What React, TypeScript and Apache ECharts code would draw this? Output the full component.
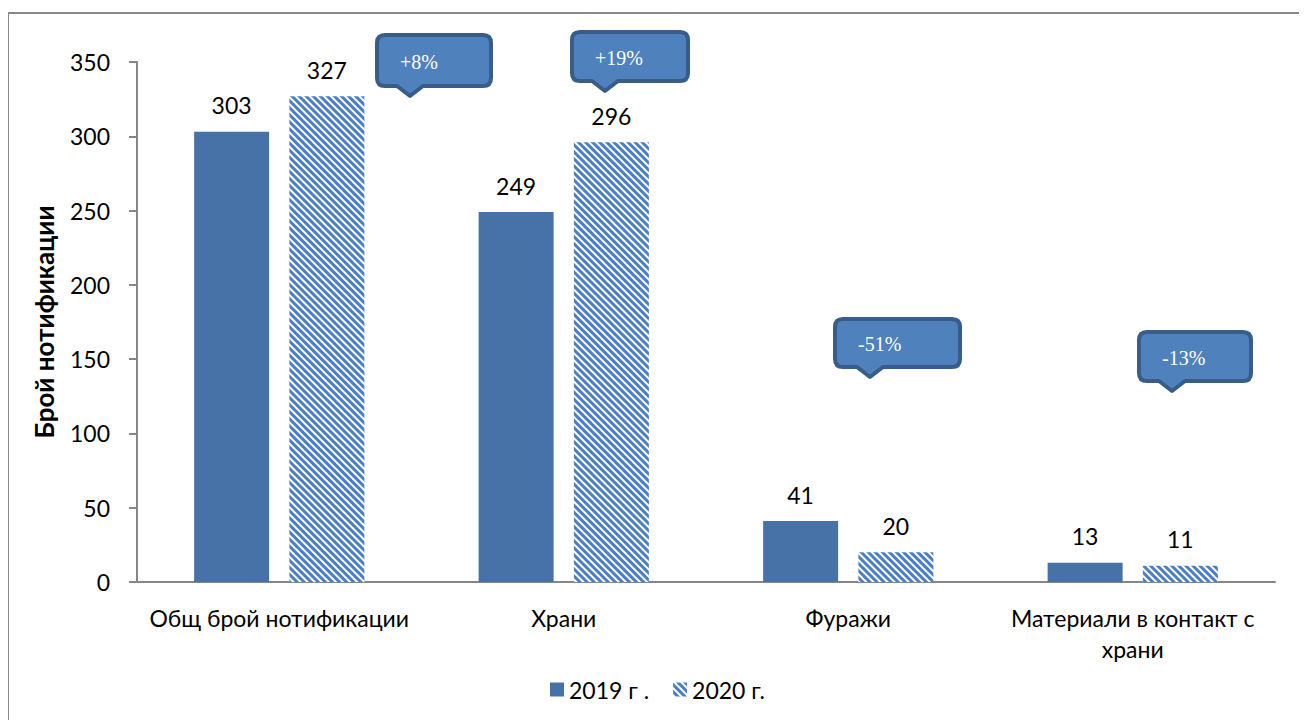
import React, { useEffect, useRef } from "react";
import * as echarts from "echarts";

const categories = [
  "Общ брой нотификации",
  "Храни",
  "Фуражи",
  "Материали в контакт с\nхрани",
];
const seriesNames = ["2019 г .", "2020 г."];
const values2019 = [303, 249, 41, 13];
const values2020 = [327, 296, 20, 11];
const yTicks = { min: 0, max: 350, interval: 50 };
const calloutTexts = ["+8%", "+19%", "-51%", "-13%"];

// Annotation boxes (layout only): left, top, width, height, tail x offset, tail height
const calloutBoxes = [
  { x: 369, y: 27, w: 114, h: 51, tx: 33, th: 10 },
  { x: 564, y: 24, w: 116, h: 49, tx: 33, th: 10 },
  { x: 827, y: 311, w: 125, h: 48, tx: 35, th: 10 },
  { x: 1131, y: 324, w: 112, h: 49, tx: 33, th: 10 },
];

function calloutPath(w: number, h: number, tx: number, th: number) {
  const r = 8;
  const hw = 13;
  return `M${r},0 H${w - r} Q${w},0 ${w},${r} V${h - r} Q${w},${h} ${w - r},${h} H${tx + hw} L${tx},${h + th} L${tx - hw},${h} H${r} Q0,${h} 0,${h - r} V${r} Q0,0 ${r},0 Z`;
}

export default function App() {
  const ref = useRef<HTMLDivElement>(null);
  useEffect(() => {
    if (!ref.current) return;
    calloutBoxes.forEach((b, i) => {
      echarts.graphic.registerShape(
        "callout" + i,
        echarts.graphic.extendPath(calloutPath(b.w, b.h, b.tx, b.th), {})
      );
    });
    const chart = echarts.init(ref.current, null, { renderer: "svg" });
    const font = "Lato";
    const fs = 23;
    const graphics: any[] = [
      {
        type: "rect",
        shape: { x: 0, y: 5, width: 1400, height: 800 },
        style: { fill: "none", stroke: "#878787", lineWidth: 2 },
        silent: true,
      },
    ];
    calloutBoxes.forEach((b, i) => {
      graphics.push({
        type: "callout" + i,
        x: b.x,
        y: b.y,
        style: { fill: "#4F81BD", stroke: "#385D8A", lineWidth: 4, lineJoin: "round" },
        z: 100,
      });
      graphics.push({
        type: "text",
        x: b.x + 23,
        y: b.y + b.h / 2 + 1,
        style: {
          text: calloutTexts[i],
          fill: "#ffffff",
          font: '20px "Liberation Serif"',
          verticalAlign: "middle",
        },
        z: 101,
      });
    });
    chart.setOption({
      animation: false,
      textStyle: { fontFamily: font },
      grid: { left: 129, top: 54, right: 32, bottom: 138, containLabel: false },
      legend: {
        bottom: 14,
        left: "center",
        icon: "rect",
        itemWidth: 14,
        itemHeight: 14,
        itemGap: 24,
        textStyle: { fontSize: fs, color: "#000", fontFamily: font },
        data: seriesNames,
      },
      xAxis: {
        type: "category",
        data: categories,
        axisLine: { show: true, lineStyle: { color: "#868686", width: 2 } },
        axisTick: { show: false },
        axisLabel: {
          fontSize: fs,
          color: "#000",
          margin: 20,
          lineHeight: 31,
          fontFamily: font,
          interval: 0,
        },
      },
      yAxis: {
        type: "value",
        min: yTicks.min,
        max: yTicks.max,
        interval: yTicks.interval,
        name: "Брой нотификации",
        nameLocation: "middle",
        nameGap: 80,
        nameTextStyle: { fontSize: 26, fontWeight: "bold", color: "#000", fontFamily: font },
        axisLine: { show: true, lineStyle: { color: "#868686", width: 2 } },
        axisTick: { show: true, length: 8, lineStyle: { color: "#868686", width: 2 } },
        splitLine: { show: false },
        axisLabel: { fontSize: fs, color: "#000", margin: 27, fontFamily: font },
      },
      series: [
        {
          name: seriesNames[0],
          type: "bar",
          data: values2019,
          barWidth: 75,
          barGap: "27%",
          itemStyle: { color: "#4672A8" },
          label: { show: true, position: "top", distance: 15, fontSize: fs, color: "#000", fontFamily: font },
        },
        {
          name: seriesNames[1],
          type: "bar",
          data: values2020,
          barWidth: 75,
          itemStyle: {
            color: "#ffffff",
            decal: {
              symbol: "rect",
              symbolSize: 1,
              dashArrayX: [1, 0],
              dashArrayY: [3, 2],
              rotation: Math.PI / 4,
              color: "#4A7EC6",
              backgroundColor: "#ffffff",
            },
          },
          label: { show: true, position: "top", distance: 15, fontSize: fs, color: "#000", fontFamily: font },
        },
      ],
      graphic: graphics,
    });
    return () => chart.dispose();
  }, []);
  return <div ref={ref} style={{ width: 1299, height: 712 }} />;
}
